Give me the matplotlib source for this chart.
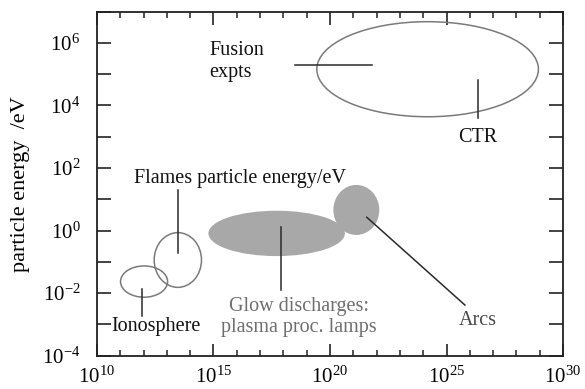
import matplotlib
matplotlib.use("Agg")
import math
import matplotlib.pyplot as plt
from matplotlib.patches import Ellipse
from matplotlib.ticker import FixedLocator, FuncFormatter, NullFormatter

plt.rcParams['font.family'] = ['Liberation Serif', 'DejaVu Serif']
plt.rcParams['mathtext.fontset'] = 'stix'

# Regions: centre (log10 density, log10 energy) and full size in decades
region_names = ["Fusion", "Flames", "Ionosphere", "Glow", "Arcs"]
region_cx = [24.19, 13.47, 12.02, 17.71, 21.13]
region_cy = [5.16, -0.94, -1.63, -0.09, 0.66]
region_w = [9.51, 2.03, 2.02, 5.86, 1.97]
region_h = [3.04, 1.75, 1.00, 1.45, 1.60]
region_filled = [False, False, False, True, True]

# Leader lines (log10 x0, log10 y0, log10 x1, log10 y1)
leader_x0 = [18.50, 26.34, 13.49, 11.92, 17.90, 21.58]
leader_y0 = [5.30, 4.82, 1.30, -1.87, 0.125, 0.425]
leader_x1 = [21.79, 26.34, 13.49, 11.92, 17.90, 25.79]
leader_y1 = [5.30, 3.60, -0.73, -2.73, -1.90, -2.38]

# Labels (log10 x, log10 y)
label_texts = ["Fusion\nexpts", "CTR", "Flames particle energy/eV", "Ionosphere",
               "Glow discharges:\nplasma proc. lamps", "Arcs"]
label_x = [14.81, 26.34, 16.14, 12.55, 18.67, 26.35]
label_y = [5.40, 2.99, 1.65, -3.08, -2.76, -2.86]
label_ha = ["left", "center", "center", "center", "center", "center"]
label_color = ["#111111", "#111111", "#111111", "#111111", "#6e6e6e", "#4a4a4a"]
label_spacing = [1.25, 1.0, 1.0, 1.0, 1.1, 1.0]

xlim = (1e10, 1e30)
ylim = (1e-4, 1e7)

fig = plt.figure(figsize=(5.85, 3.89), dpi=100)
ax = fig.add_axes([0.1658, 0.0856, 0.7966, 0.8844])
ax.set_xscale('log')
ax.set_yscale('log')
ax.set_xlim(*xlim)
ax.set_ylim(*ylim)

# transform taking log10 coordinates to display through the axes' own limits
logT = ax.transLimits + ax.transAxes

for cx, cy, w, h, filled in zip(region_cx, region_cy, region_w, region_h, region_filled):
    if filled:
        e = Ellipse((cx, cy), w, h, transform=logT, facecolor='#a8a8a8',
                    edgecolor='none', zorder=2)
    else:
        e = Ellipse((cx, cy), w, h, transform=logT, facecolor='none',
                    edgecolor='#7a7a7a', lw=1.1, zorder=2)
    ax.add_patch(e)

for x0, y0, x1, y1 in zip(leader_x0, leader_y0, leader_x1, leader_y1):
    ax.plot([10 ** x0, 10 ** x1], [10 ** y0, 10 ** y1], color='#2a2a2a',
            lw=1.1, zorder=3)

for t, x, y, ha, c, ls in zip(label_texts, label_x, label_y, label_ha,
                              label_color, label_spacing):
    ax.text(10 ** x, 10 ** y, t, ha=ha, va='center', fontsize=14.5, color=c,
            linespacing=ls, zorder=4)

# x ticks
xmaj = [1e10, 1e15, 1e20, 1e25, 1e30]
xmin = [10.0 ** k for k in range(10, 31) if k % 5 != 0]
ax.xaxis.set_major_locator(FixedLocator(xmaj))
ax.xaxis.set_minor_locator(FixedLocator(xmin))
ax.xaxis.set_minor_formatter(NullFormatter())
ax.xaxis.set_major_formatter(FuncFormatter(
    lambda v, p: r'$\mathregular{10^{%d}}$' % round(math.log10(v))))

# y ticks: every decade, labels on even exponents
yticks = [10.0 ** k for k in range(-4, 8)]
ax.yaxis.set_major_locator(FixedLocator(yticks))
ax.yaxis.set_minor_locator(FixedLocator([]))
def yfmt(v, p):
    k = round(math.log10(v))
    if k % 2 == 0 and k <= 6:
        return r'$\mathregular{10^{%d}}$' % k
    return ''
ax.yaxis.set_major_formatter(FuncFormatter(yfmt))

ax.tick_params(axis='x', which='major', direction='in', length=9, width=1.2,
               top=True, labelsize=15, pad=8, color='#222222')
ax.tick_params(axis='x', which='minor', direction='in', length=4.5, width=1.1,
               top=True, color='#222222')
ax.tick_params(axis='y', which='major', direction='in', length=10, width=1.2,
               right=True, labelsize=15, pad=12, color='#222222')

for s in ax.spines.values():
    s.set_linewidth(1.3)
    s.set_color('#222222')

ax.set_ylabel('particle energy  /eV', fontsize=16, labelpad=9)

fig.savefig('out.png', dpi=100)
